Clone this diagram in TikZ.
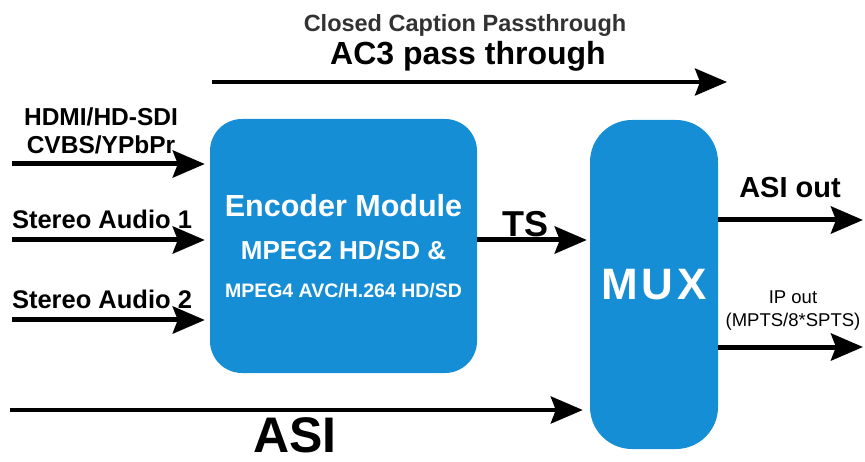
\documentclass[tikz,border=0pt]{standalone}
\usepackage{fontspec}
\setmainfont{Liberation Sans}
\usetikzlibrary{arrows.meta, positioning, calc}
\definecolor{encblue}{RGB}{22,142,214}
\definecolor{captiongray}{RGB}{50,50,50}
\tikzstyle{block} = [rectangle, fill=encblue, text=white, font=\bfseries, align=center, inner sep=0pt]
\tikzstyle{line} = [draw, line width=5pt, -{Stealth[length=32pt, width=27pt, inset=5pt]}]
\tikzstyle{thinline} = [draw, line width=4pt, -{Stealth[length=32pt, width=27pt, inset=5pt]}]
\tikzstyle{lbl} = [anchor=base, inner sep=0pt, font=\bfseries\fontsize{25.5}{29}\selectfont]

\begin{document}
\begin{tikzpicture}[x=1pt, y=1pt]
    \useasboundingbox (0,0) rectangle (865,461);

    % Blocks
    \node [block, minimum width=267pt, minimum height=254pt, rounded corners=32pt,
           font=\bfseries\fontsize{26}{38}\selectfont] (enc) at (343.5,215)
        {{\fontsize{30.5}{38}\selectfont Encoder Module}\\[5pt]
         MPEG2 HD/SD \&\\
         {\fontsize{19.5}{38}\selectfont MPEG4 AVC/H.264 HD/SD}};
    \node [block, minimum width=128pt, minimum height=329pt, rounded corners=42pt,
           font=\bfseries\fontsize{44}{44}\selectfont] (mux) at (654,176.5)
        {M\kern4pt U\kern4pt X};

    % End points
    \coordinate (pass) at (212,379);
    \coordinate (passend) at (727,379);
    \coordinate (hdmi) at (12,297);
    \coordinate (aud1) at (12,221);
    \coordinate (aud2) at (12,141);
    \coordinate (asiin) at (10,51);
    \coordinate (asiout) at (863,241);
    \coordinate (ipout) at (863,114);

    % Lines
    \path [thinline] (pass) -- (passend);
    \path [line, shorten >=5pt] (hdmi) -- (hdmi -| enc.west);
    \path [line, shorten >=5pt] (aud1) -- (aud1 -| enc.west);
    \path [line, shorten >=5pt] (aud2) -- (aud2 -| enc.west);
    \path [line, shorten >=3pt] (enc.east |- aud1) -- (mux.west |- aud1);
    \path [thinline, shorten >=7pt] (asiin) -- (asiin -| mux.west);
    \path [line] (mux.east |- asiout) -- (asiout);
    \path [line] (mux.east |- ipout) -- (ipout);

    % Labels
    \node [lbl, text=captiongray, font=\bfseries\fontsize{23.5}{27}\selectfont] (cclbl) at (465,429) {Closed Caption Passthrough};
    \node [lbl, font=\bfseries\fontsize{32}{36}\selectfont] (ac3lbl) at (468,396) {AC3 pass through};
    \node [lbl, align=center, anchor=center, font=\bfseries\fontsize{24.5}{28}\selectfont] (hdmilbl) at (101,330) {HDMI/HD-SDI\\CVBS/YPbPr};
    \node [lbl] (aud1lbl) at (102,232) {Stereo Audio 1};
    \node [lbl] (aud2lbl) at (102,152) {Stereo Audio 2};
    \node [lbl, font=\bfseries\fontsize{36}{40}\selectfont] (tslbl) at (525,224) {TS};
    \node [lbl, font=\bfseries\fontsize{29}{33}\selectfont] (asioutlbl) at (790,263) {ASI out};
    \node [lbl, align=center, anchor=center, font=\fontsize{18.5}{23}\selectfont] (ipoutlbl) at (793,150) {IP out\\(MPTS/8*SPTS)};
    \node [lbl, font=\bfseries\fontsize{50}{54}\selectfont] (asilbl) at (295,9) {ASI};
\end{tikzpicture}
\end{document}
